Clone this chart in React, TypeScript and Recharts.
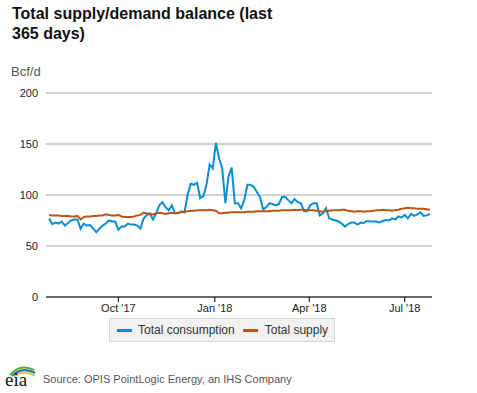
import { LineChart, Line, XAxis, YAxis, CartesianGrid } from 'recharts'

const FONT = "'Liberation Sans', Arial, sans-serif"
const BLUE = '#0b8fd2'
const ORANGE = '#b8561a'

// one reading every 3 days, starting 27 Jul 2017
const START_DATE = '2017-07-27'
const STEP_DAYS = 3

const CONSUMPTION = [
  77, 71.5, 73, 72, 74, 70, 72.5, 75, 76, 76,
  67, 72, 70, 70.5, 67, 63.5, 67, 70, 72, 75,
  74, 74, 66, 69, 69, 72, 71, 71, 70, 67,
  77, 80, 82, 76, 82, 90, 93, 88, 85, 90,
  82, 82, 84, 83, 100, 111, 110, 112, 97, 99,
  110, 130, 126, 151, 136, 126, 92, 118, 127, 92,
  92, 87, 95, 110, 110, 108, 103, 98, 86, 88,
  92, 91, 90, 91, 98, 98, 95, 92, 96, 93,
  92, 84, 84, 90, 92, 92, 80, 82, 87, 77,
  76, 75, 74, 72, 69, 71.5, 73, 73, 71, 73,
  72.5, 74.5, 74, 74, 74, 73, 74.5, 75.5, 75, 77,
  76, 79, 78, 80.5, 77, 81.5, 79.5, 81, 83, 79.5,
  80, 81.5,
]

const SUPPLY = [
  80.5, 80, 80, 80, 79.5, 79.5, 79.5, 79, 79, 79.5,
  76, 78.5, 79, 79, 79.5, 79.5, 80, 80, 81, 80.5,
  80, 80, 80.5, 79, 78.5, 78.5, 78.5, 79, 80, 80.5,
  82.5, 82, 81.5, 81, 82, 82.5, 82, 81.5, 82, 82.5,
  82, 82.5, 83, 83.5, 84, 84.5, 84.5, 85, 85, 85,
  85, 85.5, 85, 84.5, 82, 82, 82.5, 82.5, 83, 83,
  83, 83, 83, 83.5, 83.5, 83.5, 84, 84, 84, 84,
  84, 84.5, 84.5, 84.5, 85, 85, 85, 85, 85.5, 85,
  85.5, 85.5, 85, 85, 85, 84.5, 84, 83.5, 84, 84.5,
  85, 85, 85, 85.5, 85.5, 84.5, 84, 83.5, 84, 84,
  83.5, 84, 84, 84.5, 85, 85, 85.5, 85, 85, 84.5,
  85, 85.5, 86.5, 87, 87.5, 87, 87, 86.5, 86.5, 86.5,
  86, 85.5,
]

const X_TICKS = ['2017-10-01', '2018-01-01', '2018-04-01', '2018-07-01']
const Y_TICKS = [0, 50, 100, 150, 200]
const MONTHS = ['Jan', 'Feb', 'Mar', 'Apr', 'May', 'Jun', 'Jul', 'Aug', 'Sep', 'Oct', 'Nov', 'Dec']

const DAY = 86400000
const t0 = Date.parse(START_DATE)
const data = CONSUMPTION.map((c, i) => ({ date: t0 + i * STEP_DAYS * DAY, consumption: c, supply: SUPPLY[i] }))

const fmtDate = (v: number) => {
  const d = new Date(v)
  return `${MONTHS[d.getUTCMonth()]} '${String(d.getUTCFullYear()).slice(2)}`
}

function EiaLogo() {
  return (
    <svg width={34} height={28} style={{ position: 'absolute', left: 3, top: 361 }}>
      <path d="M7 14 Q17 2 31 9" fill="none" stroke="#5ea72e" strokeWidth={2} />
      <path d="M9 15 Q19 5 32 12" fill="none" stroke="#1f74b8" strokeWidth={2} />
      <path d="M11 16 Q21 8 32 15" fill="none" stroke="#f3b51b" strokeWidth={1.6} />
      <text x={2} y={25} fontSize={19} fontFamily="'Liberation Serif', serif" fill="#151515">eia</text>
    </svg>
  )
}

export default function App() {
  return (
    <div style={{ position: 'absolute', left: 0, top: 0, width: 477, height: 393, background: '#fff', fontFamily: FONT }}>
      <div style={{ position: 'absolute', left: 12, top: 4, width: 280, fontSize: 16, lineHeight: '20px', fontWeight: 'bold', color: '#111' }}>
        Total supply/demand balance (last 365 days)
      </div>
      <div style={{ position: 'absolute', left: 11, top: 64, fontSize: 13, color: '#555' }}>Bcf/d</div>

      <LineChart width={477} height={393} data={data} margin={{ top: 93, right: 45, bottom: 66, left: 0 }}
        style={{ position: 'absolute', left: 0, top: 0 }}>
        <CartesianGrid vertical={false} stroke="#a3a3a3" />
        <XAxis dataKey="date" type="number" scale="time"
          domain={[t0 - 3 * DAY, t0 + 365 * DAY]}
          ticks={X_TICKS.map(d => Date.parse(d))} tickFormatter={fmtDate}
          stroke="#000" tickSize={5} tickMargin={2} height={30}
          tick={{ fontSize: 11, fill: '#222', fontFamily: FONT }} />
        <YAxis domain={[0, 200]} ticks={Y_TICKS} width={46} axisLine={false} tickLine={false}
          tick={{ fontSize: 11, fill: '#222', fontFamily: FONT }} />
        <Line type="linear" dataKey="consumption" stroke={BLUE} strokeWidth={2} dot={false} isAnimationActive={false} />
        <Line type="linear" dataKey="supply" stroke={ORANGE} strokeWidth={2} dot={false} isAnimationActive={false} />
      </LineChart>

      {/* legend */}
      <div style={{ position: 'absolute', left: 109, top: 318, width: 226, height: 24, boxSizing: 'border-box',
        background: '#f1f1f1', border: '1px solid #d4d4d4', display: 'flex', alignItems: 'center',
        fontSize: 12, color: '#333' }}>
        <span style={{ display: 'inline-block', width: 15, height: 3, background: BLUE, marginLeft: 7 }} />
        <span style={{ marginLeft: 6 }}>Total consumption</span>
        <span style={{ display: 'inline-block', width: 15, height: 3, background: ORANGE, marginLeft: 8 }} />
        <span style={{ marginLeft: 7 }}>Total supply</span>
      </div>

      <EiaLogo />
      <div style={{ position: 'absolute', left: 43, top: 373, fontSize: 11, color: '#555' }}>
        Source: OPIS PointLogic Energy, an IHS Company
      </div>
    </div>
  )
}
